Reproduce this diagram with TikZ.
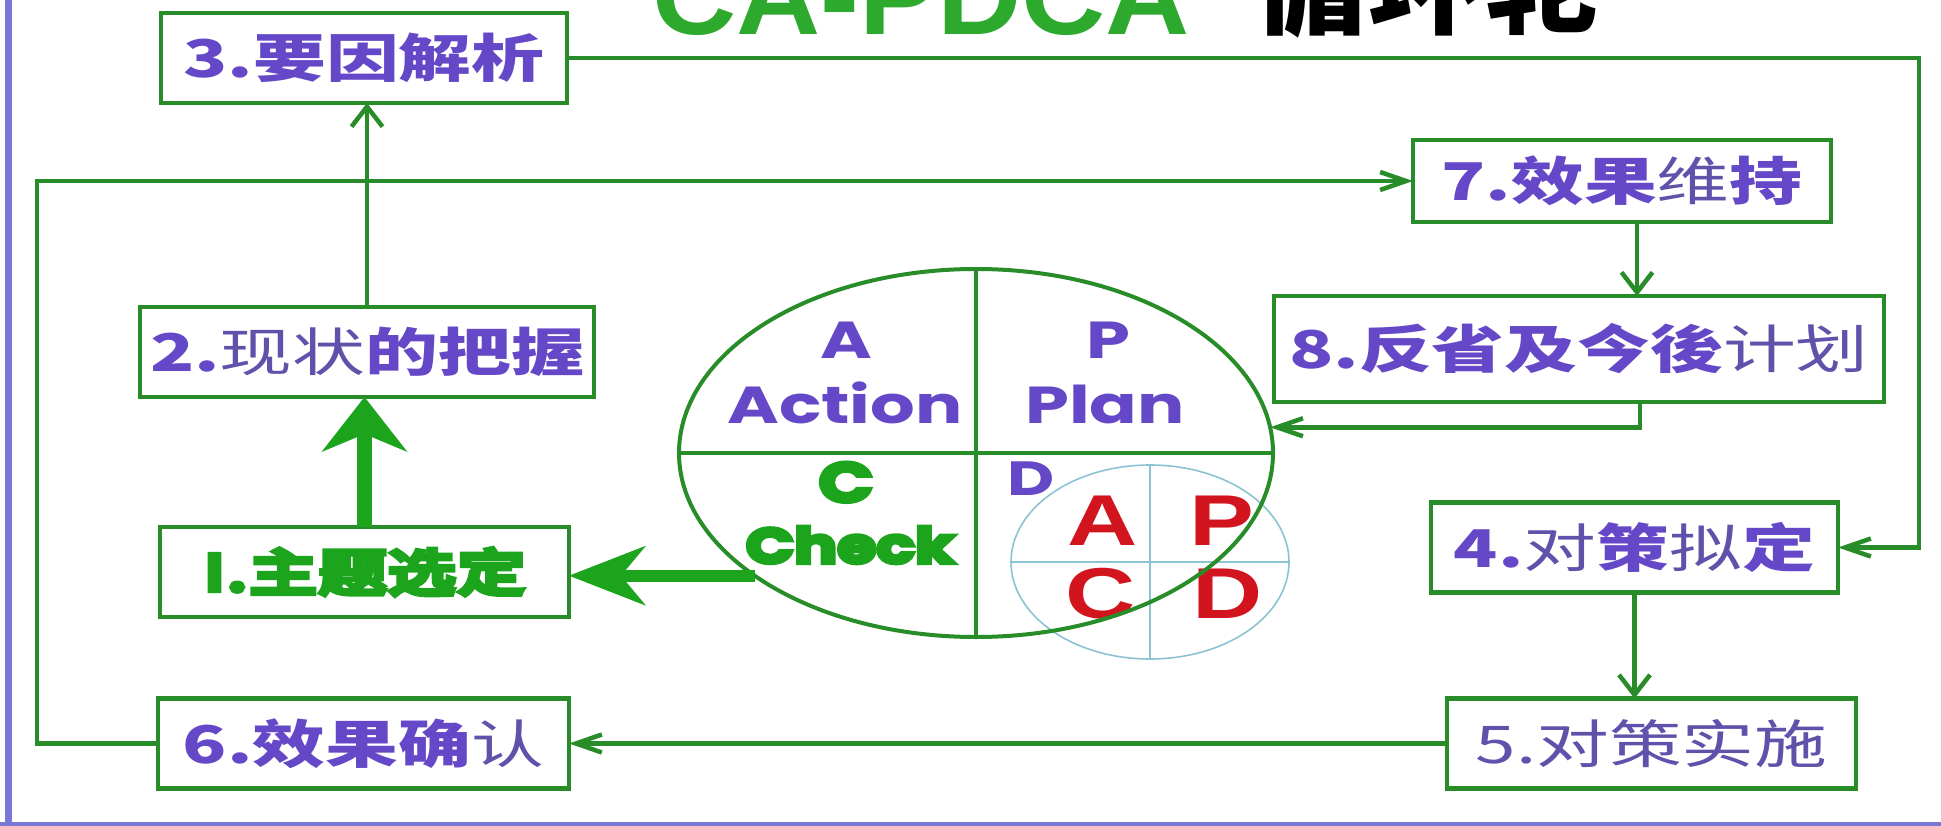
\documentclass[tikz,border=0pt]{standalone}
\usepackage{fontspec}
\usetikzlibrary{arrows.meta,shapes.geometric,calc}
\newfontfamily\cjk{Noto Sans CJK SC}[FakeStretch=1.4]
\newfontfamily\cjktitle{Noto Sans CJK SC}[FakeStretch=1.04]
\newfontfamily\cjkheavy{Noto Sans CJK SC}[UprightFont=* Bold,FakeStretch=1.36]
\newfontfamily\pop{Poppins}[FakeStretch=1.35]
\newfontfamily\popheavy{Poppins}[UprightFont=* Bold,FakeStretch=1.3]
\newfontfamily\lsans{Liberation Sans}[FakeStretch=1.35]
\newfontfamily\lsanstitle{Liberation Sans}[FakeStretch=1.06]
\definecolor{boxgreen}{RGB}{40,140,40}
\definecolor{brightgreen}{RGB}{28,165,28}
\definecolor{titlegreen}{RGB}{45,170,45}
\definecolor{purp}{RGB}{100,72,200}
\definecolor{purpreg}{RGB}{95,82,170}
\definecolor{redl}{RGB}{210,20,30}
\definecolor{lightblue}{RGB}{140,195,210}
\definecolor{framecol}{RGB}{120,120,215}
\newcommand\rg[1]{{\mdseries\color{purpreg}#1}}
\newcommand\heavytxt[2]{\special{pdf:literal direct 2 Tr #1 w}#2\special{pdf:literal direct 0 Tr}}
\begin{document}
\begin{tikzpicture}[x=1pt,y=-1pt,
  stepbox/.style={draw=boxgreen, line width=4.5pt, fill=white, inner sep=0pt, outer sep=0pt,
    minimum height=90pt, text=purp, font=\cjk\bfseries\fontsize{52}{60}\selectfont},
  conn/.style={draw=boxgreen, line width=4.5pt},
  vbarb/.style={-{Straight Barb[length=20pt,width=31pt]}},
  hbarb/.style={-{Straight Barb[length=26pt,width=18pt]}},
  lbl/.style={anchor=base, inner sep=0pt, outer sep=0pt},
  pfont/.style={font=\pop\bfseries\fontsize{52}{56}\selectfont, text=purp},
  redfont/.style={font=\lsans\bfseries\fontsize{72}{80}\selectfont, text=redl}
]
\useasboundingbox (0,0) rectangle (1941,826);
\clip (0,0) rectangle (1941,826);
\fill[white] (0,0) rectangle (1941,826);

% title (top cut off by the picture edge)
\node[anchor=base west, inner sep=0pt, text=titlegreen, font=\lsanstitle\bfseries\fontsize{110}{120}\selectfont] (t1) at (652,35) {CA-PDCA};
\node[anchor=base west, inner sep=0pt, text=black, font=\cjktitle\bfseries\fontsize{112}{120}\selectfont] (t2) at (1252,26) {循环轮};

% frame
\fill[framecol] (5,0) rectangle (12,826);
\fill[framecol] (0,822) rectangle (1941,826);

% helper coordinates
\coordinate (lx) at (37,0);
\coordinate (rx) at (1919,0);
\coordinate (cx) at (1637,0);
\coordinate (cxb) at (1640,0);

% small inner circle
\node[ellipse, draw=lightblue, line width=1.6pt, minimum width=278pt, minimum height=194pt, inner sep=0pt, outer sep=0pt] (mini) at (1150,562) {};
\draw[lightblue, line width=1.6pt] (mini.north) -- (mini.south);
\draw[lightblue, line width=1.6pt] (mini.west) -- (mini.east);
\node[lbl, redfont] (rA) at (1103,545) {A};
\node[lbl, redfont] (rP) at (1222,545) {P};
\node[lbl, redfont] (rC) at (1101,618) {C};
\node[lbl, redfont] (rD) at (1228,618) {D};

% big wheel
\node[ellipse, draw=boxgreen, line width=4pt, minimum width=594pt, minimum height=368pt, inner sep=0pt, outer sep=0pt] (wheel) at (976,453) {};
\draw[boxgreen, line width=4pt] (wheel.north) -- (wheel.south);
\draw[boxgreen, line width=4pt] (wheel.west) -- (wheel.east);

\node[lbl, pfont] (lA) at (846,358) {A};
\node[lbl, pfont] (lAction) at (845,423) {Action};
\node[lbl, pfont] (lP) at (1108,358) {P};
\node[lbl, pfont] (lPlan) at (1105,423) {Plan};
\node[lbl, font=\popheavy\fontsize{56}{60}\selectfont, text=brightgreen] (lC) at (846,502) {\heavytxt{3.5}{C}};
\node[lbl, font=\popheavy\fontsize{49}{56}\selectfont, text=brightgreen] (lCheck) at (850,563) {\heavytxt{4}{Check}};
\node[lbl, font=\pop\bfseries\fontsize{48}{52}\selectfont, text=purp] (lD) at (1031,495) {D};

% step boxes
\node[stepbox, minimum width=406pt] (b3) at (364,58) {3.要因解析};
\node[stepbox, minimum width=454pt] (b2) at (367,352) {2.\rg{现状}的把握};
\node[stepbox, minimum width=409pt, text=brightgreen, font=\cjkheavy\fontsize{51}{60}\selectfont] (b1) at (364.5,572) {\heavytxt{3.5}{I.主题选定}};
\node[stepbox, minimum width=411pt] (b6) at (363.5,743.5) {6.效果确\rg{认}};
\node[stepbox, minimum width=418pt, minimum height=82pt] (b7) at (1622,181) {7.效果\rg{维}持};
\node[stepbox, minimum width=610pt, minimum height=106pt] (b8) at (1579,349) {8.反省及今後\rg{计划}};
\node[stepbox, minimum width=407pt] (b4) at (1634.5,547.5) {4.\rg{对}策\rg{拟}定};
\node[stepbox, minimum width=409pt] (b5) at (1651.5,743.5) {\rg{5.对策实施}};

% connectors
\draw[conn, vbarb] (b2.north) -- (b2.north |- b3.south);
\draw[draw=brightgreen, line width=15pt, -{Stealth[length=55pt,width=86pt,inset=18pt,line width=0pt]}] (b1.north) -- (b1.north |- b2.south);
\draw[draw=brightgreen, line width=12pt, -{Stealth[length=77pt,width=60pt,inset=25pt,line width=0pt]}] (wheel.209) -- (wheel.209 -| b1.east);
\draw[conn, hbarb] (b3.east) -- (b3.east -| rx) |- (b4.east);
\draw[conn, vbarb] (b4.south) -- (b4.south |- b5.north);
\draw[conn, hbarb] (b5.west) -- (b6.east);
\draw[conn, hbarb] (b6.west) -- (b6.west -| lx) |- (b7.west);
\draw[conn, vbarb] (b7.south -| cx) -- (b8.north -| cx);
\draw[conn, hbarb] (b8.south -| cxb) |- (wheel.5);
\end{tikzpicture}
\end{document}
